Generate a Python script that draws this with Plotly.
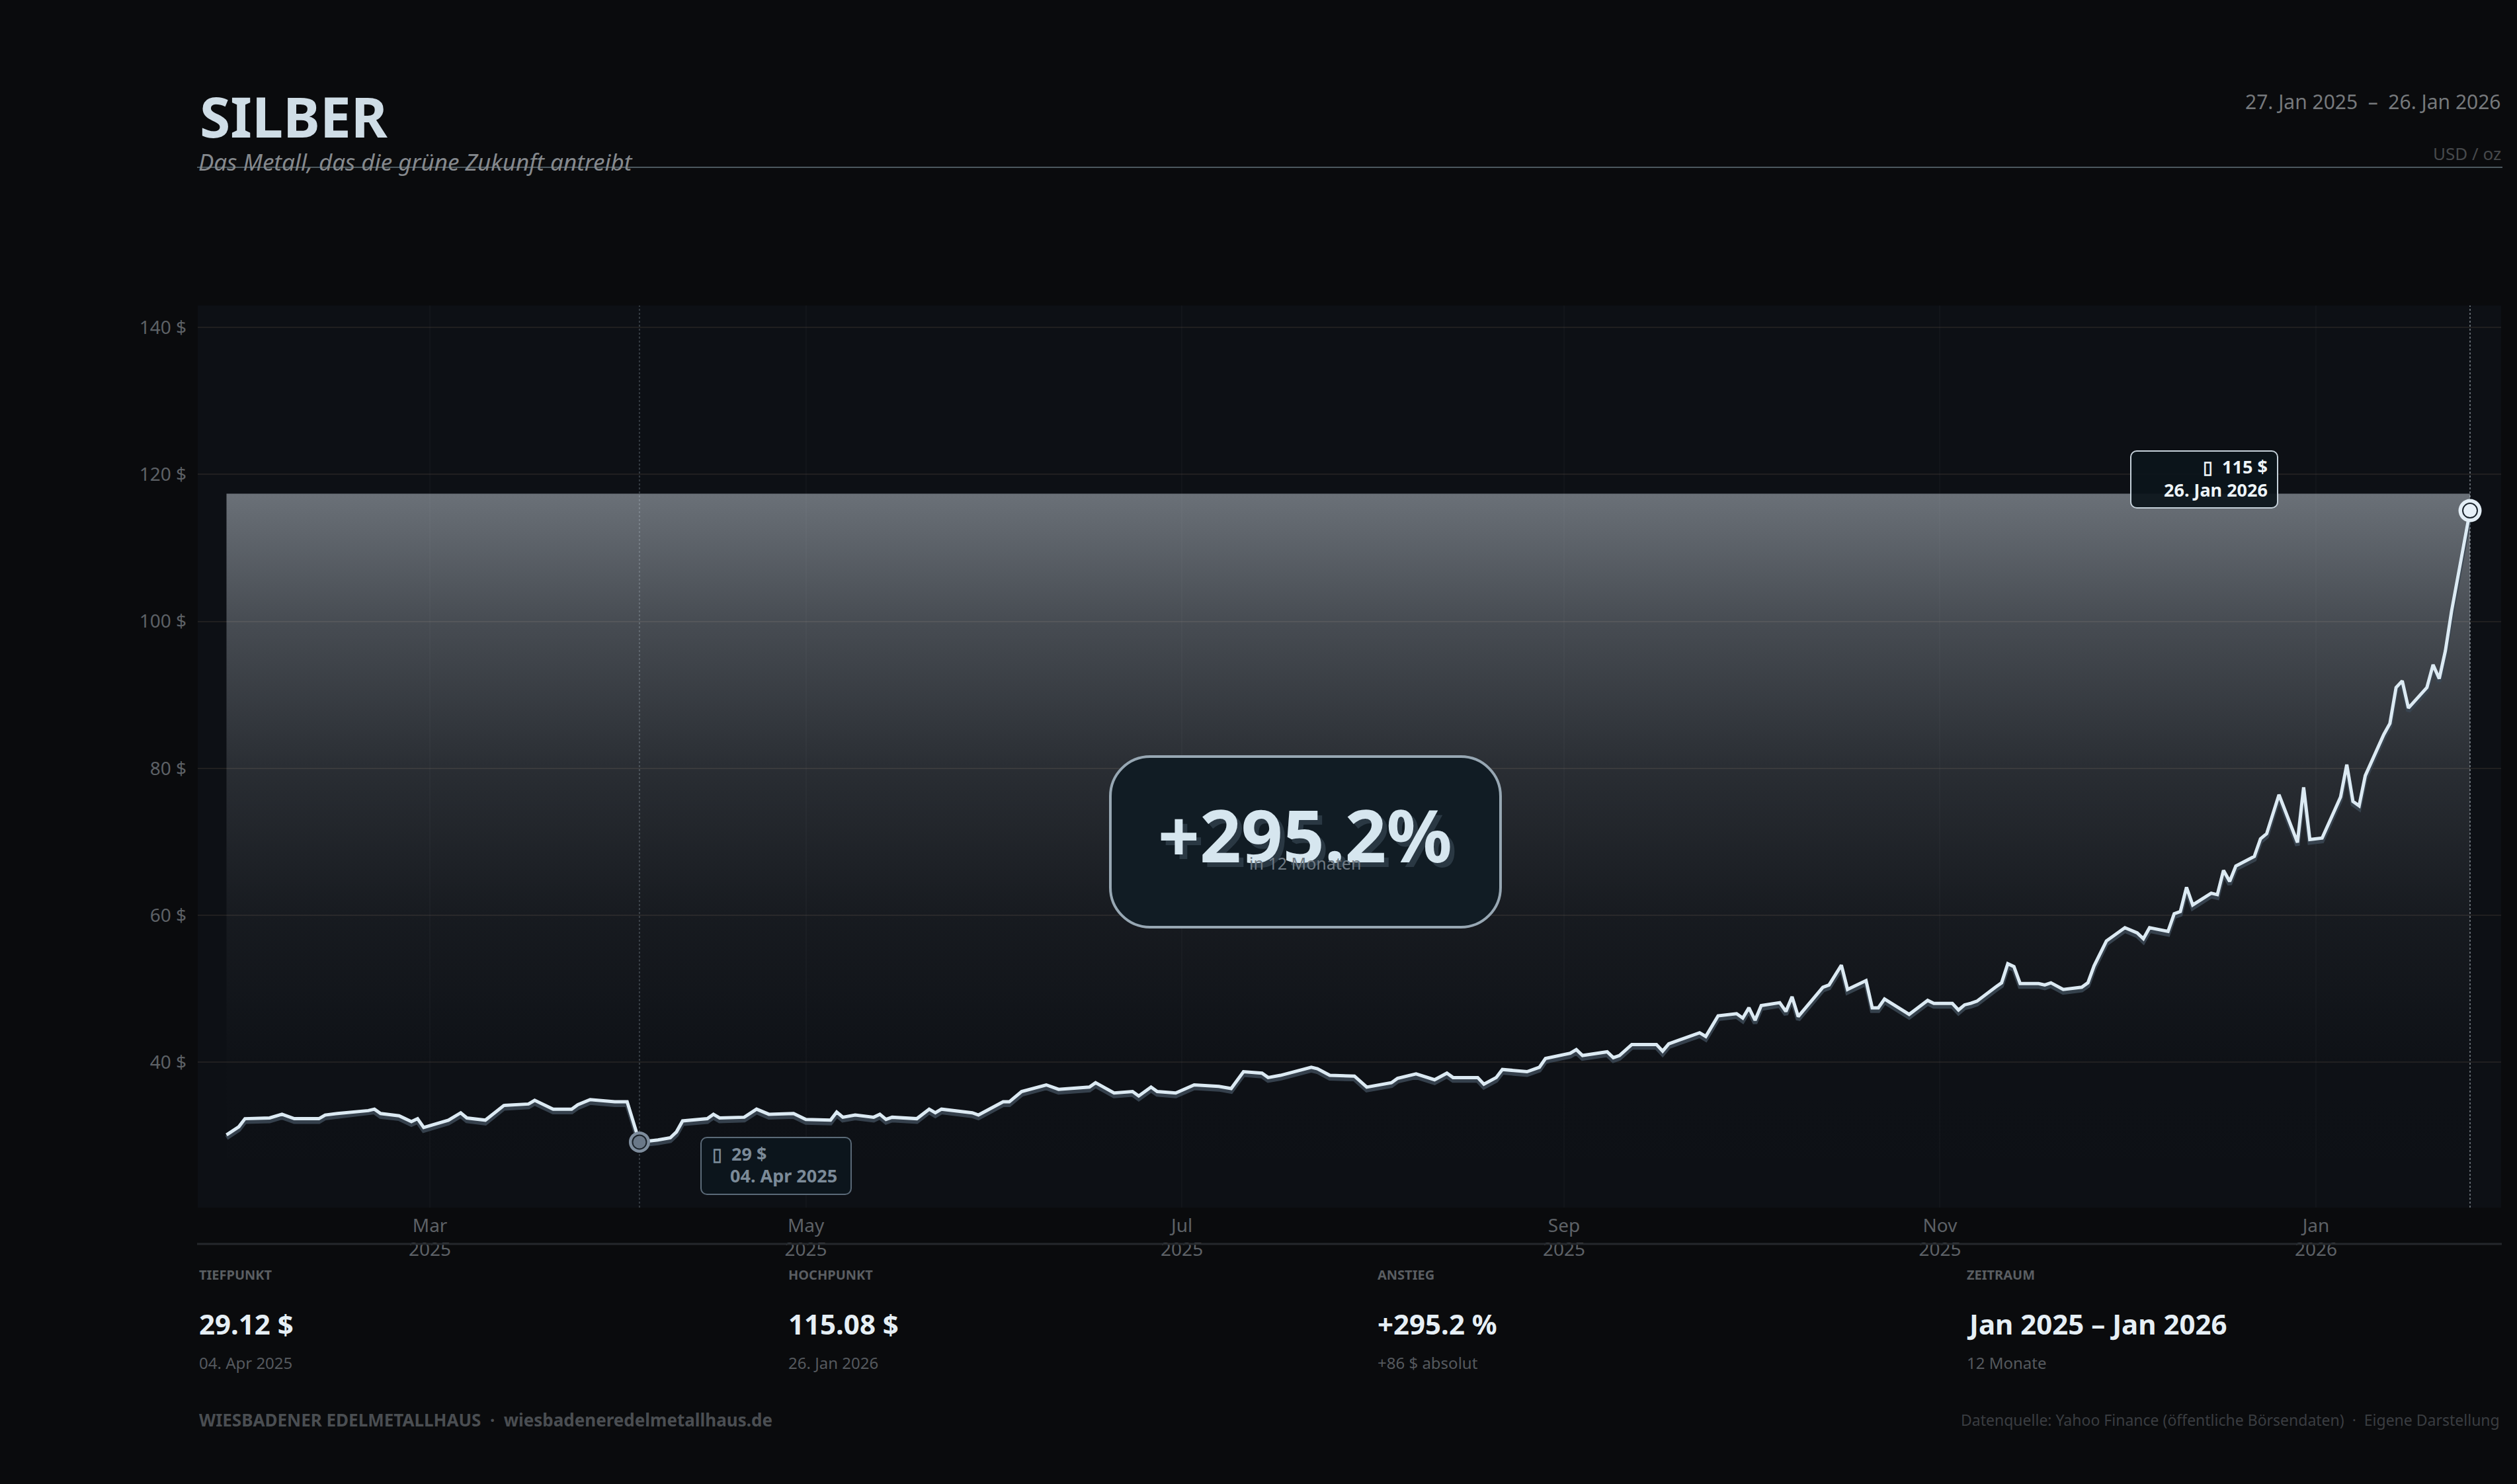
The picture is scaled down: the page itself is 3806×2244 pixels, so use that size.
import plotly.graph_objects as go

# ---------------- data ----------------
dates = [
    "2025-01-27", "2025-01-28", "2025-01-29", "2025-01-30", "2025-01-31",
    "2025-02-03", "2025-02-05", "2025-02-07", "2025-02-11", "2025-02-12", "2025-02-14",
    "2025-02-19", "2025-02-20", "2025-02-21", "2025-02-24", "2025-02-26", "2025-02-27", "2025-02-28",
    "2025-03-04", "2025-03-06", "2025-03-07", "2025-03-10", "2025-03-13", "2025-03-17", "2025-03-18",
    "2025-03-21", "2025-03-24", "2025-03-25", "2025-03-27", "2025-03-31",
    "2025-04-02", "2025-04-03", "2025-04-04", "2025-04-07", "2025-04-09", "2025-04-10", "2025-04-11",
    "2025-04-15", "2025-04-16", "2025-04-17", "2025-04-21", "2025-04-23", "2025-04-25", "2025-04-29",
    "2025-05-01", "2025-05-05", "2025-05-06", "2025-05-07", "2025-05-09", "2025-05-12", "2025-05-13",
    "2025-05-14", "2025-05-15", "2025-05-19", "2025-05-21", "2025-05-22", "2025-05-23", "2025-05-28",
    "2025-05-29", "2025-06-02", "2025-06-03", "2025-06-05", "2025-06-09", "2025-06-11", "2025-06-16",
    "2025-06-17", "2025-06-20", "2025-06-23", "2025-06-24", "2025-06-26", "2025-06-27", "2025-06-30",
    "2025-07-03", "2025-07-07", "2025-07-09", "2025-07-11", "2025-07-14", "2025-07-15", "2025-07-17",
    "2025-07-22", "2025-07-23", "2025-07-25", "2025-07-29", "2025-07-31",
    "2025-08-04", "2025-08-05", "2025-08-08", "2025-08-11", "2025-08-13", "2025-08-14", "2025-08-18",
    "2025-08-19", "2025-08-21", "2025-08-22", "2025-08-26", "2025-08-28", "2025-08-29",
    "2025-09-02", "2025-09-03", "2025-09-04", "2025-09-08", "2025-09-09", "2025-09-10", "2025-09-12",
    "2025-09-16", "2025-09-17", "2025-09-18", "2025-09-23", "2025-09-24", "2025-09-26", "2025-09-29",
    "2025-09-30", "2025-10-01", "2025-10-02", "2025-10-03", "2025-10-06", "2025-10-07", "2025-10-08",
    "2025-10-09", "2025-10-13", "2025-10-14", "2025-10-16", "2025-10-17", "2025-10-20", "2025-10-21",
    "2025-10-22", "2025-10-23", "2025-10-27", "2025-10-30", "2025-10-31",
    "2025-11-03", "2025-11-04", "2025-11-05", "2025-11-06", "2025-11-07", "2025-11-10", "2025-11-11",
    "2025-11-12", "2025-11-13", "2025-11-14", "2025-11-17", "2025-11-18", "2025-11-19", "2025-11-21",
    "2025-11-24", "2025-11-25", "2025-11-26", "2025-11-28",
    "2025-12-01", "2025-12-03", "2025-12-04", "2025-12-05", "2025-12-08", "2025-12-09", "2025-12-10",
    "2025-12-11", "2025-12-12", "2025-12-15", "2025-12-16", "2025-12-17", "2025-12-18", "2025-12-19",
    "2025-12-22", "2025-12-23", "2025-12-24", "2025-12-26", "2025-12-29", "2025-12-30", "2025-12-31",
    "2026-01-02", "2026-01-05", "2026-01-06", "2026-01-07", "2026-01-08", "2026-01-09", "2026-01-12",
    "2026-01-13", "2026-01-14", "2026-01-15", "2026-01-16", "2026-01-19", "2026-01-20", "2026-01-21",
    "2026-01-22", "2026-01-23", "2026-01-26",
]
prices = [
    30.1, 30.6, 31.2, 32.3, 32.3,
    32.4, 32.9, 32.3, 32.3, 32.8, 33.0,
    33.4, 33.6, 33.0, 32.7, 31.9, 32.3, 31.1,
    32.1, 33.1, 32.4, 32.1, 34.1, 34.3, 34.8,
    33.6, 33.6, 34.2, 34.9, 34.6,
    34.6, 31.9, 29.12, 29.4, 29.7, 30.5, 32.0,
    32.3, 32.9, 32.4, 32.5, 33.6, 32.9, 33.0,
    32.2, 32.1, 33.2, 32.5, 32.8, 32.5, 32.9,
    32.2, 32.5, 32.3, 33.6, 33.1, 33.6, 33.1,
    32.8, 34.6, 34.6, 36.0, 36.9, 36.3, 36.6,
    37.2, 35.8, 36.0, 35.4, 36.6, 36.0, 35.8,
    36.9, 36.7, 36.4, 38.7, 38.5, 37.9, 38.2,
    39.3, 39.1, 38.2, 38.1, 36.6,
    37.2, 37.8, 38.4, 37.6, 38.5, 37.9, 37.9,
    37.0, 37.9, 39.0, 38.7, 39.3, 40.5,
    41.2, 41.7, 40.9, 41.4, 40.6, 40.9, 42.4,
    42.4, 41.5, 42.5, 44.0, 43.5, 46.3, 46.6,
    46.0, 47.4, 45.7, 47.7, 48.1, 46.9, 48.9,
    46.2, 50.2, 50.5, 53.2, 49.9, 51.1, 47.4,
    47.4, 48.6, 46.5, 48.4, 48.0,
    48.0, 47.1, 47.8, 48.0, 48.3, 50.2, 50.8,
    53.4, 53.0, 50.7, 50.7, 50.5, 50.8, 49.9,
    50.2, 50.8, 53.1, 56.5,
    58.3, 57.6, 56.8, 58.3, 57.8, 60.2, 60.5,
    63.8, 61.4, 63.0, 62.8, 66.1, 64.6, 66.7,
    68.0, 70.4, 71.1, 76.4, 69.9, 77.4, 70.3,
    70.5, 76.1, 80.5, 75.5, 74.9, 79.0, 84.6,
    86.1, 91.0, 91.9, 88.2, 91.0, 94.1, 92.2,
    96.0, 101.4, 115.08,
]
x_tick_vals = ["2025-03-01", "2025-05-01", "2025-07-01", "2025-09-01", "2025-11-01", "2026-01-01"]
x_tick_text = ["Mar<br>2025", "May<br>2025", "Jul<br>2025", "Sep<br>2025", "Nov<br>2025", "Jan<br>2026"]
y_tick_vals = [40, 60, 80, 100, 120, 140]
y_tick_text = ["40 $", "60 $", "80 $", "100 $", "120 $", "140 $"]

low_val = min(prices)
low_date = dates[prices.index(low_val)]
high_val = max(prices)
high_date = dates[prices.index(high_val)]
pct = (high_val / low_val - 1) * 100
absolute = high_val - low_val

# ---------------- geometry helpers ----------------
FW, FH = 3806, 2244
L, R, T, B = 299, 3782, 462, 1826
PW, PH = R - L, B - T
FONT = "Noto Sans"


def xp(px):
    return (px - L) / PW


def yp(py):
    return (B - py) / PH


def rrect(x0, y0, x1, y1, r):
    k = 0.5523 * r
    pts = [
        ("M", [(x0 + r, y0)]),
        ("L", [(x1 - r, y0)]),
        ("C", [(x1 - r + k, y0), (x1, y0 + r - k), (x1, y0 + r)]),
        ("L", [(x1, y1 - r)]),
        ("C", [(x1, y1 - r + k), (x1 - r + k, y1), (x1 - r, y1)]),
        ("L", [(x0 + r, y1)]),
        ("C", [(x0 + r - k, y1), (x0, y1 - r + k), (x0, y1 - r)]),
        ("L", [(x0, y0 + r)]),
        ("C", [(x0, y0 + r - k), (x0 + r - k, y0), (x0 + r, y0)]),
    ]
    s = ""
    for cmd, ps in pts:
        s += cmd + " " + " ".join(f"{xp(a):.5f},{yp(b):.5f}" for a, b in ps) + " "
    return s + "Z"


y_lo, y_hi = 20.2, 143.0

fig = go.Figure()

# gradient band
band_top = high_val * 1.02
fig.add_trace(go.Scatter(
    x=[dates[0], dates[-1], dates[-1], dates[0], dates[0]],
    y=[band_top, band_top, y_lo, y_lo, band_top],
    mode="lines", line=dict(width=0), fill="toself",
    fillgradient=dict(type="vertical", colorscale=[
        [0.0, "rgba(220,230,240,0)"],
        [0.2, "rgba(220,230,240,0.006)"],
        [0.41, "rgba(220,230,240,0.05)"],
        [0.61, "rgba(220,230,240,0.135)"],
        [0.82, "rgba(220,230,240,0.28)"],
        [1.0, "rgba(220,230,240,0.45)"],
    ]),
    hoverinfo="skip", showlegend=False,
))

# line shadow
fig.add_trace(go.Scatter(
    x=dates, y=[p - 0.4 for p in prices], mode="lines",
    line=dict(color="rgba(58,70,82,0.9)", width=7),
    hoverinfo="skip", showlegend=False,
))
# main line
fig.add_trace(go.Scatter(
    x=dates, y=prices, mode="lines",
    line=dict(color="#dceaf3", width=5),
    hoverinfo="skip", showlegend=False,
))

# low marker
fig.add_trace(go.Scatter(x=[low_date], y=[low_val], mode="markers",
                         marker=dict(size=32, color="#7e8d9d"), hoverinfo="skip", showlegend=False))
fig.add_trace(go.Scatter(x=[low_date], y=[low_val], mode="markers",
                         marker=dict(size=21, color="#6a7888", line=dict(color="#1b232b", width=2)),
                         hoverinfo="skip", showlegend=False))
# high marker
fig.add_trace(go.Scatter(x=[high_date], y=[high_val], mode="markers",
                         marker=dict(size=35, color="#e3eef6"), hoverinfo="skip", showlegend=False))
fig.add_trace(go.Scatter(x=[high_date], y=[high_val], mode="markers",
                         marker=dict(size=22, color="#e6f0f8", line=dict(color="#1a242d", width=2)),
                         hoverinfo="skip", showlegend=False))

shapes = [
    dict(type="line", xref="x", yref="paper", x0=low_date, x1=low_date, y0=0, y1=1,
         line=dict(color="#353b42", width=2, dash="dot"), layer="below"),
    dict(type="line", xref="x", yref="paper", x0=high_date, x1=high_date, y0=0, y1=1,
         line=dict(color="#5f666d", width=2, dash="dot"), layer="below"),
    dict(type="line", xref="paper", yref="paper", x0=xp(298), x1=xp(3784), y0=yp(253), y1=yp(253),
         line=dict(color="#4c585e", width=2)),
    dict(type="line", xref="paper", yref="paper", x0=xp(298), x1=xp(3783), y0=yp(1881), y1=yp(1881),
         line=dict(color="#25282c", width=3)),
    dict(type="path", xref="paper", yref="paper", path=rrect(1679, 1144, 2269, 1402, 60),
         fillcolor="#111c24", line=dict(color="#97a7b3", width=4), layer="above"),
    dict(type="path", xref="paper", yref="paper", path=rrect(1060, 1720, 1287, 1806, 9),
         fillcolor="#0c151c", line=dict(color="#5b6a78", width=2), layer="above"),
    dict(type="path", xref="paper", yref="paper", path=rrect(3222, 682, 3444, 768, 9),
         fillcolor="rgba(12,20,27,0.93)", line=dict(color="#c5d1da", width=2), layer="above"),
]


def ann(text, px, py, size, color, xanchor="left", bold=False, italic=False):
    t = text
    if bold:
        t = f"<b>{t}</b>"
    if italic:
        t = f"<i>{t}</i>"
    return dict(text=t, x=xp(px), y=yp(py), xref="paper", yref="paper",
                xanchor=xanchor, yanchor="middle", showarrow=False,
                font=dict(family=FONT, size=size, color=color))


annotations = [
    ann("SILBER", 300, 176, 84, "#cfdde6", bold=True),
    ann("Das Metall, das die grüne Zukunft antreibt", 298, 245, 35, "#85898d", italic=True),
    ann("27. Jan 2025  –  26. Jan 2026", 3784, 154, 30, "#76797c", xanchor="right"),
    ann("USD / oz", 3784, 232, 26, "#46494c", xanchor="right"),
    # big percentage
    ann(f"+{pct:.1f}%", 1980, 1268, 110, "#2a3843", xanchor="center", bold=True),
    ann(f"+{pct:.1f}%", 1973, 1261, 110, "#d6e6ef", xanchor="center", bold=True),
    ann("in 12 Monaten", 1973, 1305, 25, "#6f7a83", xanchor="center"),
    # low tooltip
    ann(f"▯  {low_val:.0f} $", 1075, 1744, 27, "#7b8a98", bold=True),
    ann("04. Apr 2025", 1102, 1777, 27, "#7b8a98", bold=True),
    # high tooltip
    ann(f"▯  {high_val:.0f} $", 3431, 705, 27, "#eef4f8", xanchor="right", bold=True),
    ann("26. Jan 2026", 3431, 740, 27, "#eef4f8", xanchor="right", bold=True),
]

stat_labels = ["TIEFPUNKT", "HOCHPUNKT", "ANSTIEG", "ZEITRAUM"]
stat_values = [f"{low_val:.2f} $", f"{high_val:.2f} $", f"+{pct:.1f} %", "Jan 2025 – Jan 2026"]
stat_subs = ["04. Apr 2025", "26. Jan 2026", f"+{absolute:.0f} $ absolut", "12 Monate"]
for i in range(4):
    cx = 299 + 891 * i
    annotations.append(ann(stat_labels[i], cx, 1927, 20, "#5a5e62", bold=True))
    annotations.append(ann(stat_values[i], cx, 2002, 42, "#e6eff5", bold=True))
    annotations.append(ann(stat_subs[i], cx, 2060, 24, "#55595e"))

annotations.append(ann("WIESBADENER EDELMETALLHAUS  ·  wiesbadeneredelmetallhaus.de", 299, 2147, 26,
                       "#4a4e52", bold=True))
annotations.append(ann("Datenquelle: Yahoo Finance (öffentliche Börsendaten)  ·  Eigene Darstellung",
                       3782, 2147, 23, "#3a3d41", xanchor="right"))

fig.update_layout(
    width=FW, height=FH,
    margin=dict(l=L, r=FW - R, t=T, b=FH - B, pad=0),
    paper_bgcolor="#0a0b0d", plot_bgcolor="#0d1015",
    font=dict(family=FONT, color="#5d6166", size=28),
    hovermode=False, showlegend=False,
    shapes=shapes, annotations=annotations,
    xaxis=dict(type="date", range=["2025-01-22 08:00", "2026-01-31 01:00"],
               tickvals=x_tick_vals, ticktext=x_tick_text, showgrid=True,
               gridcolor="rgba(255,255,255,0.025)", gridwidth=2, zeroline=False, showline=False,
               ticks="", tickfont=dict(size=28, color="#5d6166"), ticklabelstandoff=8),
    yaxis=dict(range=[y_lo, y_hi], tickvals=y_tick_vals, ticktext=y_tick_text, showgrid=True,
               gridcolor="rgba(140,120,100,0.15)", gridwidth=2, zeroline=False, showline=False,
               ticks="", tickfont=dict(size=28, color="#5d6166"), ticklabelstandoff=16),
)

fig.write_html("out.html")
